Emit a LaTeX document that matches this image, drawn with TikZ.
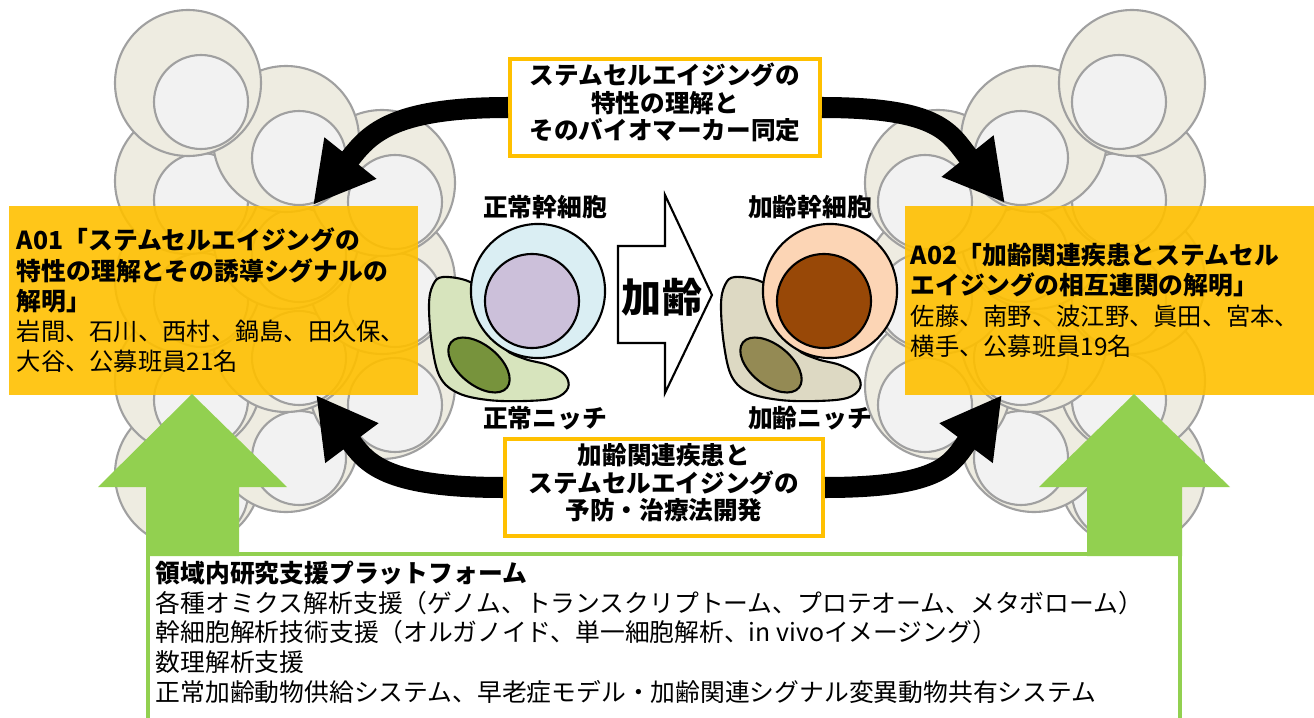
\documentclass[tikz,border=0pt]{standalone}
\usepackage{fontspec}
\setmainfont{Noto Sans CJK JP}
\usepackage{tikz}
\usetikzlibrary{positioning, arrows.meta}

\definecolor{groupyellow}{HTML}{FFC000}
\definecolor{ringbeige}{HTML}{EEECE1}
\definecolor{coregray}{HTML}{F2F2F2}
\definecolor{ringgray}{HTML}{A0A0A0}
\definecolor{platgreen}{HTML}{92D050}
\definecolor{normbody}{HTML}{DAEEF3}
\definecolor{normcore}{HTML}{CCC0DA}
\definecolor{normniche}{HTML}{D7E4BD}
\definecolor{normnuc}{HTML}{77933C}
\definecolor{agedbody}{HTML}{FCD5B5}
\definecolor{agedcore}{HTML}{984807}
\definecolor{agedniche}{HTML}{DDD9C3}
\definecolor{agednuc}{HTML}{948A54}

\newcommand{\boxfont}{\fontsize{7.05pt}{8.6pt}\selectfont}
\newcommand{\namefont}{\fontsize{6.9pt}{8.6pt}\selectfont}
\newcommand{\topicfont}{\fontsize{7pt}{7.8pt}\selectfont}
\newcommand{\platfont}{\fontsize{7.05pt}{8.5pt}\selectfont}
\newcommand{\agefont}{\fontsize{11.4pt}{12pt}\selectfont}

\begin{document}
\begin{tikzpicture}[
  x=0.01cm, y=-0.01cm,
  font=\boxfont,
  outline/.style={draw=black, line width=0.6pt},
  ringwall/.style={draw=ringgray, fill=ringbeige, line width=0.6pt},
  ringcore/.style={draw=ringgray, fill=coregray, line width=0.6pt},
  grp/.style={
    fill=groupyellow, fill opacity=0.9, text opacity=1,
    align=left, inner xsep=0.8mm, minimum height=1.89cm
  },
  topic/.style={
    draw=groupyellow, line width=1.1pt, fill=white,
    font=\topicfont\bfseries, align=center, inner sep=0pt,
    minimum width=3.1cm, minimum height=0.97cm, text depth=1.2mm
  },
  bendar/.style={line width=2.1mm, -{Triangle[width=6.2mm,length=6mm]}},
  cellbody/.style={circle, outline, inner sep=0pt},
  celllabel/.style={font=\boxfont\bfseries, inner sep=0pt},
  platform/.style={draw=platgreen, line width=1.1pt, fill=white}
]
\useasboundingbox (0,0) rectangle (1314,718);
\clip (0,0) rectangle (1314,718);

% tissue background, right side mirrored
\foreach \s in {0,1}{
  \begin{scope}[shift={(1320*\s,0)}, xscale=1-2*\s]
    \foreach \cx/\cy in {201/493, 299/458, 395/405, 201/400, 299/358, 395/300,
                         201/300, 299/255, 395/202, 201/200, 299/158, 201/102}{
      \draw[ringwall] (\cx-13,\cy-19) circle[radius=73];
      \draw[ringcore] (\cx,\cy) circle[radius=47];
    }
  \end{scope}
}

% research groups
\node[grp, text width=3.93cm] (a01) at (213.5,300.5)
  {{\bfseries A01「ステムセルエイジングの\\特性の理解とその誘導シグナルの\\解明」}\\
   {\namefont 岩間、石川、西村、鍋島、田久保、\\大谷、公募班員21名}};
\node[grp, text width=4.05cm, inner xsep=0.6mm] (a02) at (1113.5,300.5)
  {{\bfseries A02「加齢関連疾患とステムセル\\エイジングの相互連関の解明」}\\
   {\namefont 佐藤、南野、波江野、眞田、宮本、\\横手、公募班員19名}};

% shared topics
\node[topic] (chara) at (665,107.5) {ステムセルエイジングの\\特性の理解と\\そのバイオマーカー同定};
\node[topic, minimum width=3.18cm] (prev) at (664,487.5) {加齢関連疾患と\\ステムセルエイジングの\\予防・治療法開発};

\coordinate (a01top) at (313,205);
\coordinate (a02top) at (1005,203);
\coordinate (a01bot) at (316,395);
\coordinate (a02bot) at (1002,395);

\draw[bendar] (chara.west) .. controls +(-120,0) and +(55,-69) .. (a01top);
\draw[bendar] (chara.east) .. controls +(120,0) and +(-55,-69) .. (a02top);
\draw[bendar] (prev.west) .. controls +(-120,0) and +(50,67) .. (a01bot);
\draw[bendar] (prev.east) .. controls +(120,0) and +(-50,67) .. (a02bot);

% stem cells with their niches
\foreach \dx/\nich/\nuc/\body/\core/\nm in {0/normniche/normnuc/normbody/normcore/norm,
                                           292/agedniche/agednuc/agedbody/agedcore/aged}{
  \begin{scope}[shift={(\dx,0)}]
    \draw[outline, fill=\nich] plot[smooth cycle, tension=0.6] coordinates {
      (443,277) (470,282) (488,300) (494,328) (505,349) (525,359) (548,365)
      (565,375) (568,388) (555,398) (525,401) (488,400) (458,393) (440,377)
      (432,345) (429,305) (433,285)};
    \draw[outline, fill=\nuc, rotate around={-39:(479,365)}] (479,365) ellipse[x radius=36, y radius=20];
    \node[cellbody, fill=\body, minimum size=1.34cm] (\nm cell) at (538,291) {};
    \node[cellbody, fill=\core, minimum size=0.94cm] (\nm core) at (532,301) {};
  \end{scope}
}
\node[celllabel, above=0.3mm of normcell, xshift=0.7mm] (normlbl) {正常幹細胞};
\node[celllabel, above=0.3mm of agedcell, xshift=-2mm] (agedlbl) {加齢幹細胞};
\node[celllabel] (normnichelbl) at (545,418) {正常ニッチ};
\node[celllabel] (agednichelbl) at (810,418) {加齢ニッチ};

% ageing
\draw[outline, fill=white] (618,246) -- (665,246) -- (665,195) -- (712,295)
  -- (665,393) -- (665,343) -- (618,343) -- cycle;
\node[font=\agefont\bfseries, inner sep=0pt] (agetext) at (662,297) {加齢};

% support platform
\draw[platform] (148,554) rectangle (1180,760);
\fill[platgreen] (146,556) -- (146,487) -- (98,487) -- (192,394) -- (287,487)
  -- (239,487) -- (239,556) -- cycle;
\fill[platgreen] (1087,556) -- (1087,487) -- (1039,487) -- (1134,394) -- (1230,487)
  -- (1182,487) -- (1182,556) -- cycle;
\node[anchor=north west, inner sep=0pt, align=left, font=\platfont] (plattext) at (155,560)
  {{\bfseries 領域内研究支援プラットフォーム}\\
   各種オミクス解析支援（ゲノム、トランスクリプトーム、プロテオーム、メタボローム）\\
   幹細胞解析技術支援（オルガノイド、単一細胞解析、in vivoイメージング）\\
   数理解析支援\\
   正常加齢動物供給システム、早老症モデル・加齢関連シグナル変異動物共有システム};
\end{tikzpicture}
\end{document}
